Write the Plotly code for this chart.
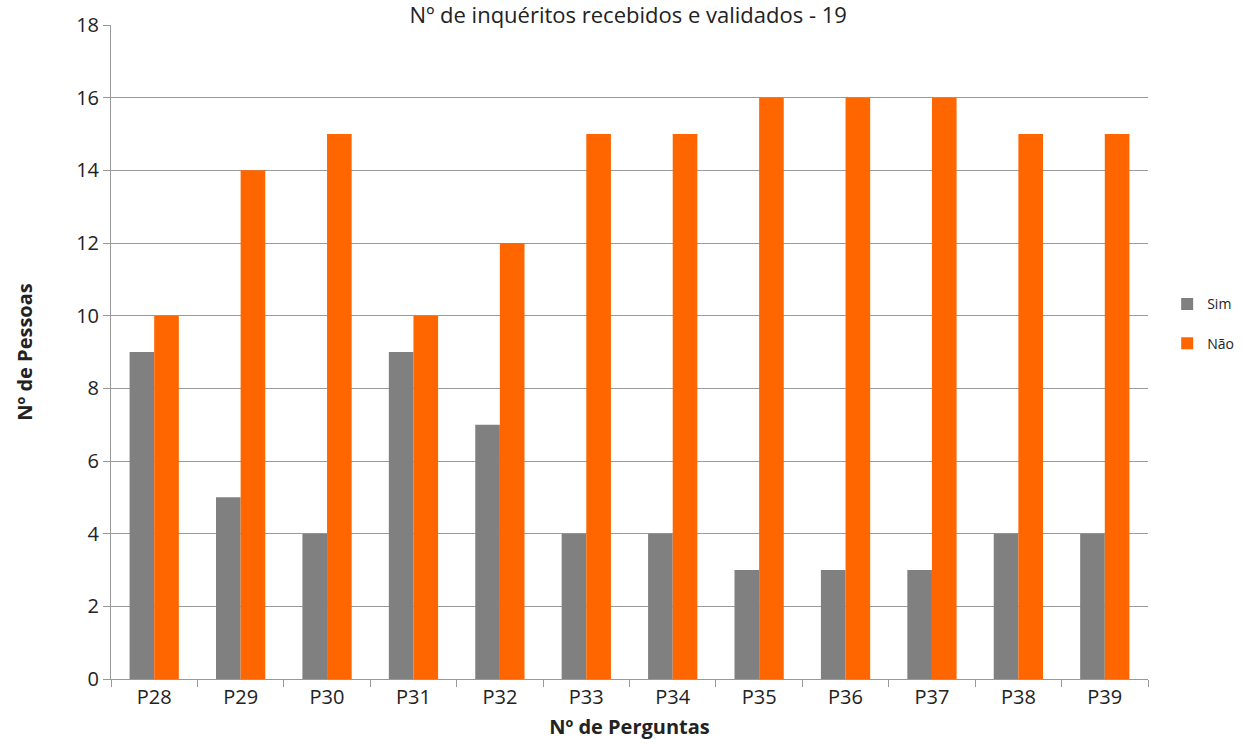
import plotly.graph_objects as go

categories = ["P28", "P29", "P30", "P31", "P32", "P33", "P34", "P35", "P36", "P37", "P38", "P39"]
sim = [9, 5, 4, 9, 7, 4, 4, 3, 3, 3, 4, 4]
nao = [10, 14, 15, 10, 12, 15, 15, 16, 16, 16, 15, 15]

FONT = "Open Sans"

fig = go.Figure()
fig.add_trace(go.Bar(name="Sim", x=categories, y=sim, legendgroup="a",
                     marker=dict(color="#808080", line=dict(width=0))))
fig.add_trace(go.Bar(name="Não", x=categories, y=nao, legendgroup="b",
                     marker=dict(color="#FF6600", line=dict(width=0))))

fig.update_layout(
    width=1244, height=745,
    margin=dict(l=111, r=96, t=25, b=66, autoexpand=False),
    paper_bgcolor="white", plot_bgcolor="white",
    barmode="group", bargap=0.43, bargroupgap=0,
    font=dict(family=FONT, color="#222222"),
    title=dict(text="Nº de inquéritos recebidos e validados - 19", x=0.505, xanchor="center",
               y=0.98, yanchor="middle", pad=dict(t=0, b=0),
               font=dict(size=22, family=FONT, color="#222222")),
    legend=dict(x=1.0185, y=0.543, xanchor="left", yanchor="middle",
                font=dict(size=14, family=FONT, color="#222222"),
                itemwidth=30, tracegroupgap=18, bgcolor="rgba(0,0,0,0)"),
    showlegend=True,
)
fig.update_xaxes(
    automargin=False,
    showline=True, linecolor="#999999", linewidth=1,
    ticks="outside", tickson="boundaries", ticklen=7, tickcolor="#999999",
    tickfont=dict(size=20, family=FONT, color="#222222"),
    title=dict(text="<b>Nº de Perguntas</b>", font=dict(size=20, family=FONT, color="#222222"), standoff=10),
)
fig.update_yaxes(
    automargin=False,
    range=[0, 18], dtick=2,
    showgrid=True, gridcolor="#9a9a9a", gridwidth=1,
    showline=True, linecolor="#999999", linewidth=1,
    ticks="outside", ticklen=7, tickcolor="#999999",
    tickfont=dict(size=20, family=FONT, color="#222222"),
    title=dict(text="<b>Nº de Pessoas</b>", font=dict(size=20, family=FONT, color="#222222"), standoff=38),
    zeroline=False,
)

fig.write_html("out.html", config={"displayModeBar": False},
               post_script="document.body.style.margin='0';")
